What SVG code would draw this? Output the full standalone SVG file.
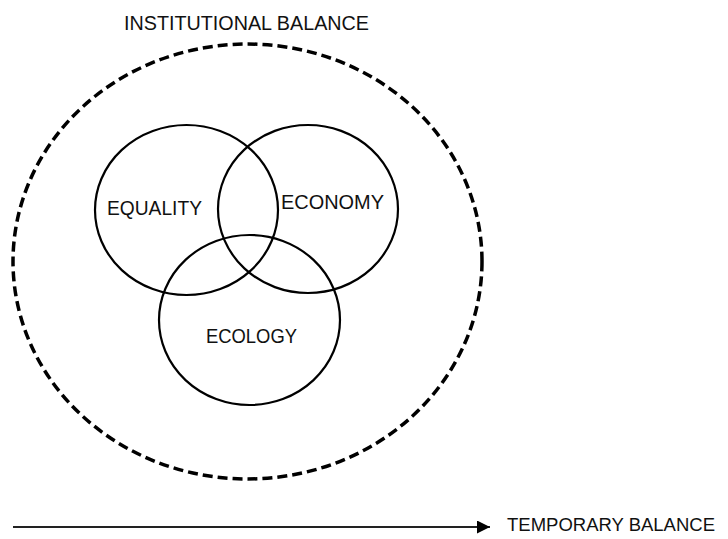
<svg xmlns="http://www.w3.org/2000/svg" width="728" height="539" viewBox="0 0 728 539">
  <style>
    .lbl { font-family: "Liberation Sans", Arial, sans-serif; font-size: 20px; fill: #111; }
    .venn { fill: none; stroke: #000; stroke-width: 2.2; }
    .outer { fill: none; stroke: #000; stroke-width: 3.5; stroke-dasharray: 10 5; }
    .conn { stroke: #222; stroke-width: 1.8; fill: none; }
  </style>
  <defs>
    <marker id="arrow" markerWidth="14" markerHeight="13" refX="13" refY="6.5" orient="auto" markerUnits="userSpaceOnUse">
      <path d="M0,0 L13,6.5 L0,13 Z" fill="#000"/>
    </marker>
  </defs>
  <rect width="728" height="539" fill="#fff"/>

  <g id="institutional-balance">
    <ellipse class="outer" cx="247.5" cy="261.5" rx="234.5" ry="217.5"/>
    <text class="lbl" x="124" y="30" textLength="245" lengthAdjust="spacingAndGlyphs">INSTITUTIONAL BALANCE</text>
  </g>

  <g id="equality">
    <ellipse class="venn" cx="186.5" cy="210" rx="91.5" ry="85"/>
    <text class="lbl" x="107" y="215" textLength="95" lengthAdjust="spacingAndGlyphs">EQUALITY</text>
  </g>

  <g id="economy">
    <ellipse class="venn" cx="308" cy="209" rx="90" ry="84"/>
    <text class="lbl" x="281" y="209" textLength="103" lengthAdjust="spacingAndGlyphs">ECONOMY</text>
  </g>

  <g id="ecology">
    <ellipse class="venn" cx="249.5" cy="320" rx="90.5" ry="85"/>
    <text class="lbl" x="206" y="343" textLength="91" lengthAdjust="spacingAndGlyphs">ECOLOGY</text>
  </g>

  <g id="connectors">
    <line class="conn" x1="13" y1="527" x2="490" y2="527" marker-end="url(#arrow)"/>
  </g>

  <g id="temporary-balance">
    <text class="lbl" x="507" y="531" textLength="208" lengthAdjust="spacingAndGlyphs" style="font-size:19px">TEMPORARY BALANCE</text>
  </g>
</svg>
